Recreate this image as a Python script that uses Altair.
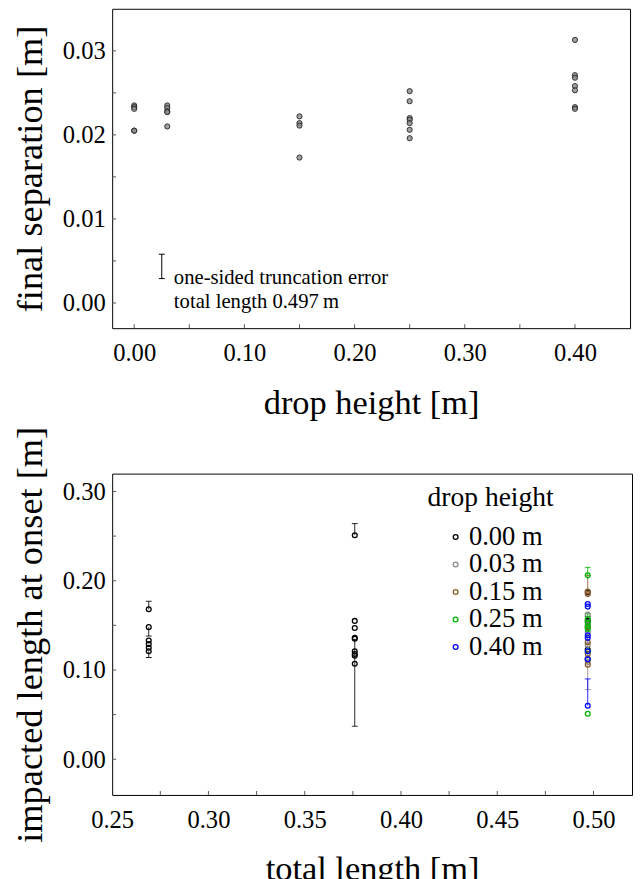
import altair as alt
import pandas as pd

FONT = "Liberation Serif"

# ---------------- top panel data ----------------
top_drop_height = [0.00, 0.00, 0.00, 0.00, 0.00,
                   0.03, 0.03, 0.03, 0.03, 0.03,
                   0.15, 0.15, 0.15, 0.15,
                   0.25, 0.25, 0.25, 0.25, 0.25, 0.25, 0.25,
                   0.40, 0.40, 0.40, 0.40, 0.40, 0.40, 0.40]
top_separation = [0.0235, 0.0233, 0.0231, 0.0205, 0.0205,
                  0.0235, 0.0232, 0.0228, 0.0227, 0.0210,
                  0.0222, 0.0214, 0.0211, 0.0173,
                  0.0252, 0.0240, 0.0220, 0.0218, 0.0214, 0.0206, 0.0196,
                  0.0313, 0.0271, 0.0268, 0.0258, 0.0253, 0.0233, 0.0231]

trunc_drop_height = [0.025]
trunc_low = [0.0029]
trunc_high = [0.0058]

note_lines = ["one-sided truncation error", "total length 0.497\u2009m"]
note_x = [0.036, 0.036]
note_y = [0.0023, -0.0006]

top_x_labels = [0.00, 0.10, 0.20, 0.30, 0.40]
top_x_ticks = [0.00, 0.05, 0.10, 0.15, 0.20, 0.25, 0.30, 0.35, 0.40]
top_y_labels = [0.00, 0.01, 0.02, 0.03]
top_y_ticks = [0.000, 0.005, 0.010, 0.015, 0.020, 0.025, 0.030]

# ---------------- bottom panel data ----------------
series_names = ["0.00 m", "0.03 m", "0.15 m", "0.25 m", "0.40 m"]
series_colors = ["#000000", "#8c8c8c", "#8b5a2b", "#00b400", "#0000ff"]
legend_title = ["drop height"]

h000_length = [0.269] * 6 + [0.376] * 9 + [0.497] * 4
h000_onset = [0.168, 0.148, 0.133, 0.129, 0.125, 0.121,
              0.251, 0.155, 0.147, 0.136, 0.135, 0.121, 0.118, 0.116, 0.107,
              0.187, 0.155, 0.123, 0.112]
h003_length = [0.497] * 6
h003_onset = [0.162, 0.150, 0.142, 0.128, 0.113, 0.109]
h015_length = [0.497] * 6
h015_onset = [0.188, 0.185, 0.148, 0.131, 0.118, 0.106]
h025_length = [0.497] * 7
h025_onset = [0.206, 0.157, 0.153, 0.149, 0.146, 0.121, 0.051]
h040_length = [0.497] * 7
h040_onset = [0.174, 0.171, 0.139, 0.136, 0.121, 0.112, 0.060]

eb_series = ["0.00 m", "0.00 m", "0.00 m", "0.00 m", "0.00 m",
             "0.15 m", "0.25 m", "0.03 m", "0.40 m", "0.00 m", "0.25 m", "0.03 m"]
eb_length = [0.269, 0.269, 0.269, 0.376, 0.376,
             0.497, 0.497, 0.497, 0.497, 0.497, 0.497, 0.497]
eb_from = [0.168, 0.148, 0.121, 0.251, 0.135,
           0.186, 0.206, 0.160, 0.060, 0.155, 0.157, 0.142]
eb_to = [0.177, 0.138, 0.114, 0.264, 0.037,
         0.206, 0.215, 0.078, 0.090, 0.160, 0.163, 0.130]

bot_x_labels = [0.25, 0.30, 0.35, 0.40, 0.45, 0.50]
bot_x_ticks = [0.275, 0.30, 0.325, 0.35, 0.375, 0.40, 0.425, 0.45, 0.475, 0.50]
bot_y_labels = [0.00, 0.10, 0.20, 0.30]
bot_y_ticks = [0.00, 0.05, 0.10, 0.15, 0.20, 0.25, 0.30]

# ---------------- build ----------------
TW, TH = 527, 325
BW, BH = 529, 327
TICK = 4
AXC = "#555555"


def axis(values, title, tpad, tsize, lpad):
    return alt.Axis(values=values, format=".2f", title=title, ticks=False,
                    grid=False, labelFlush=False, labelOverlap=False,
                    labelPadding=lpad, titlePadding=tpad, titleFontSize=tsize,
                    domain=False)


def tick_layers(xv, yv, X, Y, H):
    xt = alt.Chart(pd.DataFrame({"x": xv})).mark_rule(color=AXC, strokeWidth=1).encode(
        x=X, y=alt.value(H), y2=alt.value(H - TICK))
    yt = alt.Chart(pd.DataFrame({"y": yv})).mark_rule(color=AXC, strokeWidth=1).encode(
        y=Y, x=alt.value(0), x2=alt.value(TICK))
    return xt, yt


# top panel
TX = alt.X("x:Q", scale=alt.Scale(domain=[-0.02, 0.45], nice=False, zero=False),
           axis=axis(top_x_labels, "drop height [m]", 21, 35, 13))
TY = alt.Y("y:Q", scale=alt.Scale(domain=[-0.003, 0.035], nice=False, zero=False),
           axis=axis(top_y_labels, "final separation [m]", 13, 37, 7))

top_df = pd.DataFrame({"x": top_drop_height, "y": top_separation})
top_pts = alt.Chart(top_df).mark_point(
    shape="circle", filled=True, size=28, fill="#8a8a8a", fillOpacity=0.8,
    stroke="#1a1a1a", strokeWidth=1, strokeOpacity=0.85).encode(x=TX, y=TY)

tr_df = pd.DataFrame({"x": trunc_drop_height, "y": trunc_low, "y2": trunc_high})
tr_rule = alt.Chart(tr_df).mark_rule(color="black", strokeWidth=1).encode(
    x=TX, y=TY, y2="y2:Q")
tr_caps_df = pd.DataFrame({"x": trunc_drop_height * 2, "y": trunc_low + trunc_high})
tr_caps = alt.Chart(tr_caps_df).mark_tick(
    orient="horizontal", size=6, thickness=1, color="black", opacity=1).encode(x=TX, y=TY)

note_df = pd.DataFrame({"x": note_x, "y": note_y, "t": note_lines})
note = alt.Chart(note_df).mark_text(
    font=FONT, fontSize=21, align="left", baseline="alphabetic", color="black").encode(
    x=TX, y=TY, text="t:N")

txt, tyt = tick_layers(top_x_ticks, top_y_ticks, TX, TY, TH)

top = alt.layer(top_pts, tr_rule, tr_caps, note, txt, tyt).properties(width=TW, height=TH)

# bottom panel
BX = alt.X("x:Q", scale=alt.Scale(domain=[0.25, 0.52], nice=False, zero=False),
           axis=axis(bot_x_labels, "total length [m]", 20, 35, 13))
BY = alt.Y("y:Q", scale=alt.Scale(domain=[-0.04, 0.32], nice=False, zero=False),
           axis=axis(bot_y_labels, "impacted length at onset [m]", 13, 37, 7))

rows = []
for name, xs, ys in zip(series_names,
                        [h000_length, h003_length, h015_length, h025_length, h040_length],
                        [h000_onset, h003_onset, h015_onset, h025_onset, h040_onset]):
    for a, b in zip(xs, ys):
        rows.append({"x": a, "y": b, "s": name})
bot_df = pd.DataFrame(rows)

cscale = alt.Scale(domain=series_names, range=series_colors)

eb_df = pd.DataFrame({"x": eb_length, "y": eb_from, "y2": eb_to, "s": eb_series})
cap_df = pd.DataFrame({"x": eb_length, "y": eb_to, "s": eb_series})
eb_layers = []
for name, col in zip(series_names, series_colors):
    sub = eb_df[eb_df["s"] == name]
    subc = cap_df[cap_df["s"] == name]
    if len(sub) == 0:
        continue
    eb_layers.append(alt.Chart(sub).mark_rule(strokeWidth=1, color=col, opacity=0.85).encode(
        x=BX, y=BY, y2="y2:Q"))
    eb_layers.append(alt.Chart(subc).mark_tick(orient="horizontal", size=6, thickness=1,
                                               color=col, opacity=0.85).encode(x=BX, y=BY))

# the legend of a concatenated chart is placed relative to the top panel's origin
bot_pts = alt.Chart(bot_df).mark_point(
    shape="circle", filled=False, size=24, strokeWidth=1.3, opacity=1).encode(
    x=BX, y=BY,
    color=alt.Color("s:N", scale=cscale, sort=series_names,
                    legend=alt.Legend(title=None, orient="none", legendX=336, legendY=524,
                                      labelFont=FONT, labelFontSize=27, labelColor="black",
                                      symbolType="circle", symbolSize=24,
                                      symbolStrokeWidth=1.3, labelOffset=0,
                                      rowPadding=0, padding=0)))

lt_df = pd.DataFrame({"t": legend_title})
leg_title = alt.Chart(lt_df).mark_text(
    font=FONT, fontSize=28, align="left", baseline="alphabetic", color="black").encode(
    x=alt.value(321), y=alt.value(33), text="t:N")

bxt, byt = tick_layers(bot_x_ticks, bot_y_ticks, BX, BY, BH)

bottom = alt.layer(*eb_layers, bot_pts, leg_title, bxt, byt).properties(width=BW, height=BH)

chart = alt.vconcat(top, bottom, spacing=4).properties(
    padding={"left": 3, "top": -8, "right": 0, "bottom": 0}, background="white"
).configure_view(
    stroke="black", strokeWidth=1
).configure_axis(
    labelFont=FONT, labelFontSize=25, labelColor="black",
    titleFont=FONT, titleFontWeight="normal", titleColor="black"
)

chart.save("out.html", embed_options={"renderer": "svg", "actions": False})
